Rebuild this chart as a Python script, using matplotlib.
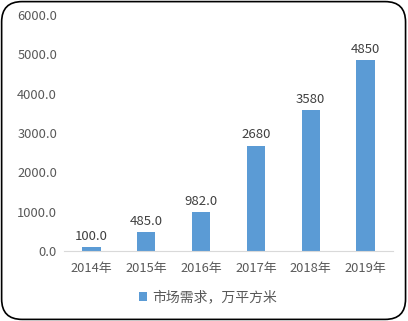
import matplotlib.pyplot as plt
from matplotlib.patches import FancyBboxPatch

plt.rcParams['font.family'] = ['Noto Sans CJK SC', 'DejaVu Sans']

years = ['2014年', '2015年', '2016年', '2017年', '2018年', '2019年']
demand = [100.0, 485.0, 982.0, 2680, 3580, 4850]
value_labels = ['100.0', '485.0', '982.0', '2680', '3580', '4850']
yticks = [0, 1000, 2000, 3000, 4000, 5000, 6000]
series_name = '市场需求，万平方米'

fig = plt.figure(figsize=(4.08, 3.21), dpi=100)
ax = fig.add_axes([0.157, 0.218, 0.806, 0.735])

x = range(len(years))
bars = ax.bar(x, demand, width=0.33, color='#5B9BD5', label=series_name, zorder=2)
for xi, v, lab in zip(x, demand, value_labels):
    ax.annotate(lab, (xi, v), xytext=(0, 3), textcoords='offset points',
                ha='center', va='bottom', fontsize=9.5, color='#404040')

ax.set_xlim(-0.5, len(years) - 0.5)
ax.set_ylim(0, 6000)
ax.set_yticks(yticks)
ax.set_yticklabels([f'{t:.1f}' for t in yticks])
ax.set_xticks(list(x))
ax.set_xticklabels(years)
ax.tick_params(length=0, labelsize=9.3, labelcolor='#595959')
ax.tick_params(axis='x', pad=8)
ax.tick_params(axis='y', pad=5)
for s in ['top', 'right', 'left']:
    ax.spines[s].set_visible(False)
ax.spines['bottom'].set_color('#D9D9D9')

fig.legend(handles=[bars], labels=[series_name], loc='center',
           bbox_to_anchor=(0.51, 0.073), frameon=False, fontsize=10,
           handlelength=0.6, handleheight=0.6, handletextpad=0.4,
           labelcolor='#595959')

frame = FancyBboxPatch((0.004, 0.005), 0.99, 0.99,
                       boxstyle='round,pad=0,rounding_size=0.05',
                       transform=fig.transFigure, fill=False,
                       edgecolor='black', linewidth=1.2, mutation_aspect=408/321)
fig.patches.append(frame)

fig.savefig('out.png', dpi=100)
